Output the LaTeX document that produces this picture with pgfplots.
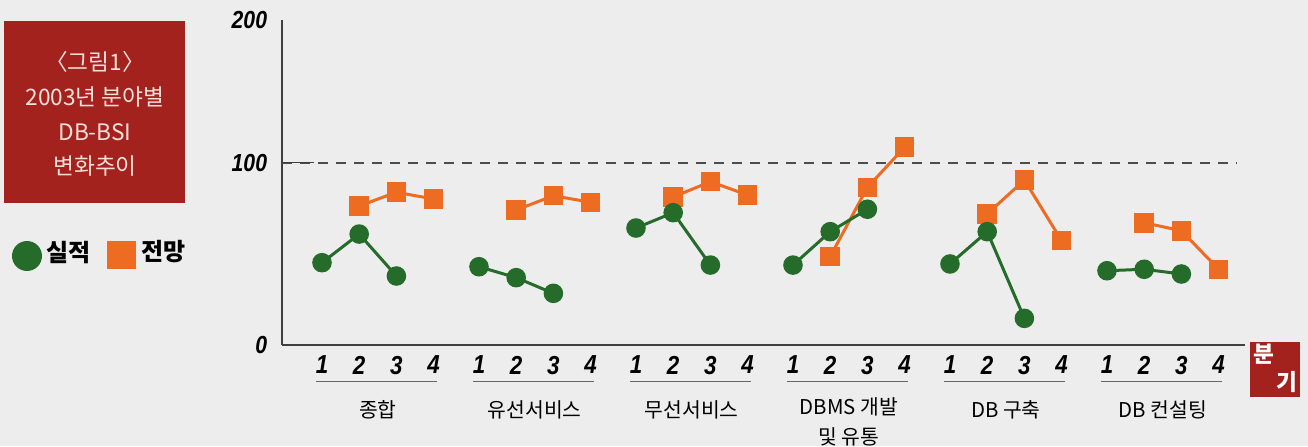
\documentclass[border=0pt]{standalone}
\usepackage{fontspec}
\usepackage{pgfplots}
\pgfplotsset{compat=1.18}
\setmainfont{Liberation Sans}
\newfontfamily\kr{Noto Sans CJK KR}
\newfontfamily\numf[FakeStretch=0.86]{Liberation Sans}
\definecolor{cgreen}{HTML}{256B2A}
\definecolor{corange}{HTML}{EE6B22}
\definecolor{cred}{HTML}{A4221E}
\definecolor{cbg}{HTML}{EDEDED}
\definecolor{ctitle}{HTML}{F8E0DA}
\begin{document}
\begin{tikzpicture}
\useasboundingbox (0,0) rectangle (981pt,334.5pt);
\fill[cbg] (0,0) rectangle (981pt,334.5pt);
\begin{axis}[
  at={(211.5pt,75.75pt)}, anchor=south west,
  scale only axis, width=722.25pt, height=243.75pt,
  xmin=-1.075, xmax=24.81, ymin=0, ymax=200,
  y coord trafo/.code={\pgfmathparse{ifthenelse(#1>100,100+(#1-100)*0.781,#1)}},
  axis lines*=left,
  axis line style={draw=black!75, line width=1.1pt},
  clip=false,
  major tick length=0pt,
  xtick={0,1,2,3,4.22,5.22,6.22,7.22,8.44,9.44,10.44,11.44,12.66,13.66,14.66,15.66,16.88,17.88,18.88,19.88,21.1,22.1,23.1,24.1},
  xticklabels={1,2,3,4,1,2,3,4,1,2,3,4,1,2,3,4,1,2,3,4,1,2,3,4},
  ytick={0,100,200}, yticklabels={0,100,200},
  xticklabel style={font=\numf\bfseries\itshape\fontsize{19.5}{19.5}\selectfont, inner sep=0pt, anchor=north, yshift=-8pt},
  yticklabel style={font=\numf\bfseries\itshape\fontsize{18.5}{18.5}\selectfont, inner sep=0pt, anchor=east, xshift=-11pt},
  oline/.style={corange, line width=2.25pt, mark=square*, mark size=6.2pt},
  gline/.style={cgreen, line width=2.25pt, mark=*, mark size=6.2pt},
]
\addplot[black!70, line width=1.5pt, dash pattern=on 7.5pt off 6pt] coordinates {(-1.075,100) (24.6,100)};
\draw[black!75, line width=1.1pt] (axis cs:-1.075,100) -- ++(-6pt,0);
% forecast (orange)
\addplot[oline] coordinates {(1,76.2) (2,83.7) (3,80.0)};
\addplot[oline] coordinates {(5.22,74.0) (6.22,81.8) (7.22,78.2)};
\addplot[oline] coordinates {(9.44,81.1) (10.44,89.5) (11.44,82.2)};
\addplot[oline] coordinates {(13.66,48.4) (14.66,86.4) (15.66,110.7)};
\addplot[oline] coordinates {(17.88,71.8) (18.88,90.4) (19.88,57.2)};
\addplot[oline] coordinates {(22.1,67.0) (23.1,62.6) (24.1,41.5)};
% actual (green)
\addplot[gline] coordinates {(0,45.1) (1,60.8) (2,37.8)};
\addplot[gline] coordinates {(4.22,42.9) (5.22,36.9) (6.22,28.3)};
\addplot[gline] coordinates {(8.44,64.1) (9.44,72.5) (10.44,43.8)};
\addplot[gline] coordinates {(12.66,43.8) (13.66,62.1) (14.66,74.4)};
\addplot[gline] coordinates {(16.88,44.4) (17.88,62.1) (18.88,14.6)};
\addplot[gline] coordinates {(21.1,40.7) (22.1,41.5) (23.1,38.9)};
\end{axis}
\begin{scope}[x=0.75pt,y=-0.75pt,yshift=334.5pt]
  % title box
  \fill[cred] (4,21) rectangle (185,203);
  \node[text=ctitle, align=center, font=\kr\fontsize{17}{26}\selectfont] at (95,114) {〈그림1〉\\2003년 분야별\\DB-BSI\\변화추이};
  % legend
  \fill[cgreen] (27,256) circle (15);
  \node[anchor=west, inner sep=0pt, font=\kr\bfseries\fontsize{18}{18}\selectfont] at (46,253) {실적};
  \fill[corange] (107,241) rectangle (136,269);
  \node[anchor=west, inner sep=0pt, font=\kr\bfseries\fontsize{18}{18}\selectfont] at (141,252) {전망};
  % group underlines
  \foreach \g in {0,...,5} \draw[black!60, line width=1.1pt] ({316+157*\g},381.5) -- ({437+157*\g},381.5);
  % group labels
  \foreach \g/\lab in {0/종합,1/유선서비스,2/무선서비스,4/DB 구축,5/DB 컨설팅}
    \node[font=\kr\fontsize{15.3}{15.3}\selectfont, inner sep=0pt] at ({377.8+157*\g},410) {\lab};
  \node[font=\kr\fontsize{15.3}{22.5}\selectfont, inner sep=0pt, align=center, anchor=north] at ({377.8+157*3},397) {DBMS 개발\\및 유통};
  % quarter box
  \fill[cred] (1250,342) rectangle (1300,397);
  \node[text=white, font=\kr\bfseries\fontsize{17}{17}\selectfont, inner sep=0pt] at (1264,354) {분};
  \node[text=white, font=\kr\bfseries\fontsize{17}{17}\selectfont, inner sep=0pt] at (1287,382) {기};
\end{scope}
\end{tikzpicture}
\end{document}
